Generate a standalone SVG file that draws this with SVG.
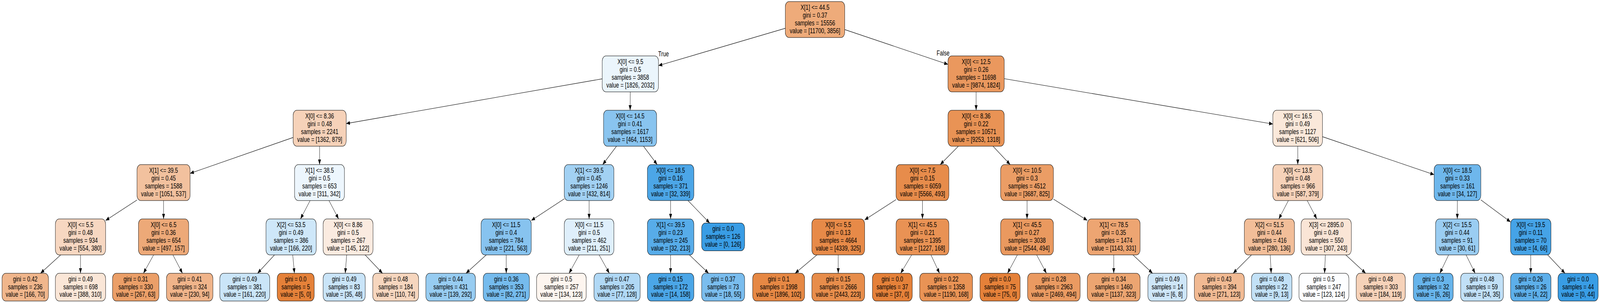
<svg xmlns="http://www.w3.org/2000/svg" width="5546" height="775" viewBox="0 0 5546 775" preserveAspectRatio="none" style="width:100vw;height:100vh">
<defs>
<style>
.node rect { stroke: #000; stroke-width: 1.1; }
.node text, .elabel { font-family: "Liberation Sans", Arial, Helvetica, sans-serif; font-size: 18.3px; text-anchor: middle; fill: #000; }
.edges line { stroke: #000; stroke-width: 1.1; fill: none; marker-end: url(#arrow); }
</style>
<marker id="arrow" viewBox="0 0 13 10" refX="13" refY="5" markerWidth="13" markerHeight="10" markerUnits="userSpaceOnUse" orient="auto">
<path d="M0,0 L13,5 L0,10 z" fill="#000"/>
</marker>
</defs>
<rect x="0" y="0" width="5546" height="775" fill="#fff"/>
<g id="connectors" class="edges">
<line x1="2722" y1="72.4" x2="2282.5" y2="167.8"/>
<line x1="2928" y1="75.6" x2="3286" y2="164.7"/>
<line x1="2087.5" y1="201.6" x2="1200" y2="316.1"/>
<line x1="2184.5" y1="235" x2="2184.2" y2="282"/>
<line x1="3383.5" y1="235" x2="3383.5" y2="282"/>
<line x1="3481" y1="201.2" x2="4412" y2="317.3"/>
<line x1="1016" y1="351.6" x2="659" y2="443.4"/>
<line x1="1107.8" y1="374" x2="1107.6" y2="421"/>
<line x1="2137" y1="374" x2="2089" y2="421"/>
<line x1="2230.5" y1="374" x2="2278" y2="421"/>
<line x1="3322" y1="374" x2="3259" y2="421"/>
<line x1="3442" y1="374" x2="3501.6" y2="421"/>
<line x1="4498.3" y1="374" x2="4498.4" y2="421"/>
<line x1="4584" y1="349.6" x2="4971" y2="446.7"/>
<line x1="475" y1="511.4" x2="366" y2="564"/>
<line x1="567" y1="513" x2="567" y2="560"/>
<line x1="1074.9" y1="513" x2="1041.6" y2="560"/>
<line x1="1140.3" y1="513" x2="1173.7" y2="560"/>
<line x1="1956" y1="508.6" x2="1841.5" y2="563.9"/>
<line x1="2042" y1="513" x2="2042" y2="560"/>
<line x1="2324.5" y1="513" x2="2324.5" y2="560"/>
<line x1="2384.7" y1="513" x2="2460" y2="570.5"/>
<line x1="3106" y1="510.6" x2="2997" y2="562.4"/>
<line x1="3197.5" y1="513" x2="3197.5" y2="560"/>
<line x1="3560" y1="513" x2="3560" y2="560"/>
<line x1="3651.5" y1="509.3" x2="3769" y2="563.7"/>
<line x1="4465.9" y1="513" x2="4432.6" y2="560"/>
<line x1="4531.1" y1="513" x2="4564.4" y2="560"/>
<line x1="5051.7" y1="513" x2="5051.3" y2="560"/>
<line x1="5133" y1="511.3" x2="5236" y2="567.7"/>
<line x1="210.4" y1="652" x2="140.4" y2="699"/>
<line x1="279" y1="652" x2="279" y2="699"/>
<line x1="532.5" y1="652" x2="497.2" y2="699"/>
<line x1="599.4" y1="652" x2="632.5" y2="699"/>
<line x1="951.5" y1="652" x2="892.8" y2="699"/>
<line x1="1014.7" y1="652" x2="1020.6" y2="699"/>
<line x1="1201.7" y1="652" x2="1196.7" y2="699"/>
<line x1="1265.6" y1="652" x2="1325.9" y2="699"/>
<line x1="1685.6" y1="652" x2="1615.2" y2="699"/>
<line x1="1754.7" y1="652" x2="1754.8" y2="699"/>
<line x1="2007.6" y1="652" x2="1972.5" y2="699"/>
<line x1="2076.7" y1="652" x2="2112.2" y2="699"/>
<line x1="2324.5" y1="652" x2="2324.5" y2="699"/>
<line x1="2389.7" y1="652" x2="2456.2" y2="699"/>
<line x1="2831.6" y1="652" x2="2756.1" y2="699"/>
<line x1="2905.5" y1="652" x2="2905.5" y2="699"/>
<line x1="3160.1" y1="652" x2="3121.9" y2="699"/>
<line x1="3226.9" y1="652" x2="3256.8" y2="699"/>
<line x1="3526.5" y1="652" x2="3492.3" y2="699"/>
<line x1="3593.3" y1="652" x2="3627.3" y2="699"/>
<line x1="3860.5" y1="652" x2="3860.5" y2="699"/>
<line x1="3927.1" y1="652" x2="3995.1" y2="699"/>
<line x1="4337.9" y1="652" x2="4274.4" y2="699"/>
<line x1="4402.9" y1="652" x2="4406.2" y2="699"/>
<line x1="4594.1" y1="652" x2="4591.2" y2="699"/>
<line x1="4664.7" y1="652" x2="4733.8" y2="699"/>
<line x1="5021.3" y1="652" x2="4990.9" y2="699"/>
<line x1="5081.8" y1="652" x2="5113.2" y2="699"/>
<line x1="5306" y1="652" x2="5306" y2="699"/>
<line x1="5364.7" y1="652" x2="5424.7" y2="699"/>
<text class="elabel" x="2300" y="144">True</text>
<text class="elabel" x="3269" y="142">False</text>
</g>

<g id="n0" class="node" transform="translate(2825,50)"><rect x="-103" y="-46" width="206" height="92" rx="13" fill="#eeab7a"/><text y="-25">X[1] &lt;= 44.5</text><text y="-5">gini = 0.37</text><text y="15">samples = 15556</text><text y="35">value = [11700, 3856]</text></g>
<g id="n1" class="node" transform="translate(2185,189)"><rect x="-97.5" y="-46" width="195" height="92" rx="13" fill="#ebf5fc"/><text y="-25">X[0] &lt;= 9.5</text><text y="-5">gini = 0.5</text><text y="15">samples = 3858</text><text y="35">value = [1826, 2032]</text></g>
<g id="n2" class="node" transform="translate(3383.5,189)"><rect x="-97.5" y="-46" width="195" height="92" rx="13" fill="#ea985e"/><text y="-25">X[0] &lt;= 12.5</text><text y="-5">gini = 0.26</text><text y="15">samples = 11698</text><text y="35">value = [9874, 1824]</text></g>
<g id="n3" class="node" transform="translate(1108,328)"><rect x="-92" y="-46" width="184" height="92" rx="13" fill="#f6d2b9"/><text y="-25">X[0] &lt;= 8.36</text><text y="-5">gini = 0.48</text><text y="15">samples = 2241</text><text y="35">value = [1362, 879]</text></g>
<g id="n4" class="node" transform="translate(2184,328)"><rect x="-92" y="-46" width="184" height="92" rx="13" fill="#89c4ef"/><text y="-25">X[0] &lt;= 14.5</text><text y="-5">gini = 0.41</text><text y="15">samples = 1617</text><text y="35">value = [464, 1153]</text></g>
<g id="n5" class="node" transform="translate(3383.5,328)"><rect x="-97.5" y="-46" width="195" height="92" rx="13" fill="#e99355"/><text y="-25">X[0] &lt;= 8.36</text><text y="-5">gini = 0.22</text><text y="15">samples = 10571</text><text y="35">value = [9253, 1318]</text></g>
<g id="n6" class="node" transform="translate(4498,328)"><rect x="-86" y="-46" width="172" height="92" rx="13" fill="#fae8da"/><text y="-25">X[0] &lt;= 16.5</text><text y="-5">gini = 0.49</text><text y="15">samples = 1127</text><text y="35">value = [621, 506]</text></g>
<g id="n7" class="node" transform="translate(567,467)"><rect x="-92" y="-46" width="184" height="92" rx="13" fill="#f2c19e"/><text y="-25">X[1] &lt;= 39.5</text><text y="-5">gini = 0.45</text><text y="15">samples = 1588</text><text y="35">value = [1051, 537]</text></g>
<g id="n8" class="node" transform="translate(1107.5,467)"><rect x="-86.5" y="-46" width="173" height="92" rx="13" fill="#edf6fd"/><text y="-25">X[1] &lt;= 38.5</text><text y="-5">gini = 0.5</text><text y="15">samples = 653</text><text y="35">value = [311, 342]</text></g>
<g id="n9" class="node" transform="translate(2042,467)"><rect x="-86" y="-46" width="172" height="92" rx="13" fill="#a2d1f3"/><text y="-25">X[1] &lt;= 39.5</text><text y="-5">gini = 0.45</text><text y="15">samples = 1246</text><text y="35">value = [432, 814]</text></g>
<g id="n10" class="node" transform="translate(2324.5,467)"><rect x="-80.5" y="-46" width="161" height="92" rx="13" fill="#4ca6e7"/><text y="-25">X[0] &lt;= 18.5</text><text y="-5">gini = 0.16</text><text y="15">samples = 371</text><text y="35">value = [32, 339]</text></g>
<g id="n11" class="node" transform="translate(3197.5,467)"><rect x="-91.5" y="-46" width="183" height="92" rx="13" fill="#e78c4b"/><text y="-25">X[0] &lt;= 7.5</text><text y="-5">gini = 0.15</text><text y="15">samples = 6059</text><text y="35">value = [5566, 493]</text></g>
<g id="n12" class="node" transform="translate(3560,467)"><rect x="-91.5" y="-46" width="183" height="92" rx="13" fill="#eb9d65"/><text y="-25">X[0] &lt;= 10.5</text><text y="-5">gini = 0.3</text><text y="15">samples = 4512</text><text y="35">value = [3687, 825]</text></g>
<g id="n13" class="node" transform="translate(4498.5,467)"><rect x="-86.5" y="-46" width="173" height="92" rx="13" fill="#f6d2b9"/><text y="-25">X[0] &lt;= 13.5</text><text y="-5">gini = 0.48</text><text y="15">samples = 966</text><text y="35">value = [587, 379]</text></g>
<g id="n14" class="node" transform="translate(5052,467)"><rect x="-81" y="-46" width="162" height="92" rx="13" fill="#6eb7ec"/><text y="-25">X[0] &lt;= 18.5</text><text y="-5">gini = 0.33</text><text y="15">samples = 161</text><text y="35">value = [34, 127]</text></g>
<g id="n15" class="node" transform="translate(279,606)"><rect x="-87" y="-46" width="174" height="92" rx="13" fill="#f7d7c1"/><text y="-25">X[0] &lt;= 5.5</text><text y="-5">gini = 0.48</text><text y="15">samples = 934</text><text y="35">value = [554, 380]</text></g>
<g id="n16" class="node" transform="translate(567,606)"><rect x="-87" y="-46" width="174" height="92" rx="13" fill="#eda978"/><text y="-25">X[0] &lt;= 6.5</text><text y="-5">gini = 0.36</text><text y="15">samples = 654</text><text y="35">value = [497, 157]</text></g>
<g id="n17" class="node" transform="translate(1009,606)"><rect x="-87" y="-46" width="174" height="92" rx="13" fill="#cee7f9"/><text y="-25">X[2] &lt;= 53.5</text><text y="-5">gini = 0.49</text><text y="15">samples = 386</text><text y="35">value = [166, 220]</text></g>
<g id="n18" class="node" transform="translate(1206.5,606)"><rect x="-86.5" y="-46" width="173" height="92" rx="13" fill="#fbebe0"/><text y="-25">X[0] &lt;= 8.86</text><text y="-5">gini = 0.5</text><text y="15">samples = 267</text><text y="35">value = [145, 122]</text></g>
<g id="n19" class="node" transform="translate(1754.5,606)"><rect x="-87" y="-46" width="174" height="92" rx="13" fill="#87c3ef"/><text y="-25">X[0] &lt;= 11.5</text><text y="-5">gini = 0.4</text><text y="15">samples = 784</text><text y="35">value = [221, 563]</text></g>
<g id="n20" class="node" transform="translate(2042,606)"><rect x="-86" y="-46" width="172" height="92" rx="13" fill="#dfeffb"/><text y="-25">X[0] &lt;= 11.5</text><text y="-5">gini = 0.5</text><text y="15">samples = 462</text><text y="35">value = [211, 251]</text></g>
<g id="n21" class="node" transform="translate(2324.5,606)"><rect x="-80.5" y="-46" width="161" height="92" rx="13" fill="#57ace9"/><text y="-25">X[1] &lt;= 39.5</text><text y="-5">gini = 0.23</text><text y="15">samples = 245</text><text y="35">value = [32, 213]</text></g>
<g id="n22" class="node" transform="translate(2506.5,606)"><rect x="-74.5" y="-35.5" width="149" height="71" rx="13" fill="#399de5"/><text y="-15">gini = 0.0</text><text y="5">samples = 126</text><text y="25">value = [0, 126]</text></g>
<g id="n23" class="node" transform="translate(2905.5,606)"><rect x="-91.5" y="-46" width="183" height="92" rx="13" fill="#e78a48"/><text y="-25">X[0] &lt;= 5.5</text><text y="-5">gini = 0.13</text><text y="15">samples = 4664</text><text y="35">value = [4339, 325]</text></g>
<g id="n24" class="node" transform="translate(3197.5,606)"><rect x="-91.5" y="-46" width="183" height="92" rx="13" fill="#e99254"/><text y="-25">X[1] &lt;= 45.5</text><text y="-5">gini = 0.21</text><text y="15">samples = 1395</text><text y="35">value = [1227, 168]</text></g>
<g id="n25" class="node" transform="translate(3560,606)"><rect x="-91.5" y="-46" width="183" height="92" rx="13" fill="#ea995f"/><text y="-25">X[1] &lt;= 45.5</text><text y="-5">gini = 0.27</text><text y="15">samples = 3038</text><text y="35">value = [2544, 494]</text></g>
<g id="n26" class="node" transform="translate(3860.5,606)"><rect x="-91.5" y="-46" width="183" height="92" rx="13" fill="#eda572"/><text y="-25">X[1] &lt;= 78.5</text><text y="-5">gini = 0.35</text><text y="15">samples = 1474</text><text y="35">value = [1143, 331]</text></g>
<g id="n27" class="node" transform="translate(4400,606)"><rect x="-87" y="-46" width="174" height="92" rx="13" fill="#f2be99"/><text y="-25">X[2] &lt;= 51.5</text><text y="-5">gini = 0.44</text><text y="15">samples = 416</text><text y="35">value = [280, 136]</text></g>
<g id="n28" class="node" transform="translate(4597,606)"><rect x="-87" y="-46" width="174" height="92" rx="13" fill="#fae5d6"/><text y="-25">X[3] &lt;= 2895.0</text><text y="-5">gini = 0.49</text><text y="15">samples = 550</text><text y="35">value = [307, 243]</text></g>
<g id="n29" class="node" transform="translate(5051,606)"><rect x="-75" y="-46" width="150" height="92" rx="13" fill="#9acdf2"/><text y="-25">X[2] &lt;= 15.5</text><text y="-5">gini = 0.44</text><text y="15">samples = 91</text><text y="35">value = [30, 61]</text></g>
<g id="n30" class="node" transform="translate(5306,606)"><rect x="-70" y="-46" width="140" height="92" rx="13" fill="#45a3e7"/><text y="-25">X[0] &lt;= 19.5</text><text y="-5">gini = 0.11</text><text y="15">samples = 70</text><text y="35">value = [4, 66]</text></g>

<g id="l1" class="node" transform="translate(87.5,734.5)"><rect x="-80.5" y="-35.5" width="161" height="71" rx="13" fill="#f0b68c"/><text y="-15">gini = 0.42</text><text y="5">samples = 236</text><text y="25">value = [166, 70]</text></g>
<g id="l2" class="node" transform="translate(279,734.5)"><rect x="-87" y="-35.5" width="174" height="71" rx="13" fill="#fae6d7"/><text y="-15">gini = 0.49</text><text y="5">samples = 698</text><text y="25">value = [388, 310]</text></g>
<g id="l3" class="node" transform="translate(470.5,734.5)"><rect x="-80.5" y="-35.5" width="161" height="71" rx="13" fill="#eb9f68"/><text y="-15">gini = 0.31</text><text y="5">samples = 330</text><text y="25">value = [267, 63]</text></g>
<g id="l4" class="node" transform="translate(657.5,734.5)"><rect x="-80.5" y="-35.5" width="161" height="71" rx="13" fill="#f0b48a"/><text y="-15">gini = 0.41</text><text y="5">samples = 324</text><text y="25">value = [230, 94]</text></g>
<g id="l5" class="node" transform="translate(848.5,734.5)"><rect x="-86.5" y="-35.5" width="173" height="71" rx="13" fill="#cae5f8"/><text y="-15">gini = 0.49</text><text y="5">samples = 381</text><text y="25">value = [161, 220]</text></g>
<g id="l6" class="node" transform="translate(1025,734.5)"><rect x="-64" y="-35.5" width="128" height="71" rx="13" fill="#e58139"/><text y="-15">gini = 0.0</text><text y="5">samples = 5</text><text y="25">value = [5, 0]</text></g>
<g id="l7" class="node" transform="translate(1193,734.5)"><rect x="-73" y="-35.5" width="146" height="71" rx="13" fill="#c9e4f8"/><text y="-15">gini = 0.49</text><text y="5">samples = 83</text><text y="25">value = [35, 48]</text></g>
<g id="l8" class="node" transform="translate(1371.5,734.5)"><rect x="-79.5" y="-35.5" width="159" height="71" rx="13" fill="#f6d6be"/><text y="-15">gini = 0.48</text><text y="5">samples = 184</text><text y="25">value = [110, 74]</text></g>
<g id="l9" class="node" transform="translate(1562,734.5)"><rect x="-86" y="-35.5" width="172" height="71" rx="13" fill="#97ccf1"/><text y="-15">gini = 0.44</text><text y="5">samples = 431</text><text y="25">value = [139, 292]</text></g>
<g id="l10" class="node" transform="translate(1755,734.5)"><rect x="-80" y="-35.5" width="160" height="71" rx="13" fill="#75bbed"/><text y="-15">gini = 0.36</text><text y="5">samples = 353</text><text y="25">value = [82, 271]</text></g>
<g id="l11" class="node" transform="translate(1946,734.5)"><rect x="-86" y="-35.5" width="172" height="71" rx="13" fill="#fdf5ef"/><text y="-15">gini = 0.5</text><text y="5">samples = 257</text><text y="25">value = [134, 123]</text></g>
<g id="l12" class="node" transform="translate(2139,734.5)"><rect x="-80" y="-35.5" width="160" height="71" rx="13" fill="#b0d8f5"/><text y="-15">gini = 0.47</text><text y="5">samples = 205</text><text y="25">value = [77, 128]</text></g>
<g id="l13" class="node" transform="translate(2324.5,734.5)"><rect x="-80.5" y="-35.5" width="161" height="71" rx="13" fill="#4ba6e7"/><text y="-15">gini = 0.15</text><text y="5">samples = 172</text><text y="25">value = [14, 158]</text></g>
<g id="l14" class="node" transform="translate(2506.5,734.5)"><rect x="-74.5" y="-35.5" width="149" height="71" rx="13" fill="#7abdee"/><text y="-15">gini = 0.37</text><text y="5">samples = 73</text><text y="25">value = [18, 55]</text></g>
<g id="l15" class="node" transform="translate(2699,734.5)"><rect x="-90" y="-35.5" width="180" height="71" rx="13" fill="#e68844"/><text y="-15">gini = 0.1</text><text y="5">samples = 1998</text><text y="25">value = [1896, 102]</text></g>
<g id="l16" class="node" transform="translate(2905.5,734.5)"><rect x="-91.5" y="-35.5" width="183" height="71" rx="13" fill="#e78d4b"/><text y="-15">gini = 0.15</text><text y="5">samples = 2666</text><text y="25">value = [2443, 223]</text></g>
<g id="l17" class="node" transform="translate(3093,734.5)"><rect x="-69" y="-35.5" width="138" height="71" rx="13" fill="#e58139"/><text y="-15">gini = 0.0</text><text y="5">samples = 37</text><text y="25">value = [37, 0]</text></g>
<g id="l18" class="node" transform="translate(3279.5,734.5)"><rect x="-91.5" y="-35.5" width="183" height="71" rx="13" fill="#e99355"/><text y="-15">gini = 0.22</text><text y="5">samples = 1358</text><text y="25">value = [1190, 168]</text></g>
<g id="l19" class="node" transform="translate(3466.5,734.5)"><rect x="-69.5" y="-35.5" width="139" height="71" rx="13" fill="#e58139"/><text y="-15">gini = 0.0</text><text y="5">samples = 75</text><text y="25">value = [75, 0]</text></g>
<g id="l20" class="node" transform="translate(3653,734.5)"><rect x="-91" y="-35.5" width="182" height="71" rx="13" fill="#ea9a61"/><text y="-15">gini = 0.28</text><text y="5">samples = 2963</text><text y="25">value = [2469, 494]</text></g>
<g id="l21" class="node" transform="translate(3860.5,734.5)"><rect x="-91.5" y="-35.5" width="183" height="71" rx="13" fill="#eca571"/><text y="-15">gini = 0.34</text><text y="5">samples = 1460</text><text y="25">value = [1137, 323]</text></g>
<g id="l22" class="node" transform="translate(4046.5,734.5)"><rect x="-67.5" y="-35.5" width="135" height="71" rx="13" fill="#cee6f8"/><text y="-15">gini = 0.49</text><text y="5">samples = 14</text><text y="25">value = [6, 8]</text></g>
<g id="l23" class="node" transform="translate(4226.5,734.5)"><rect x="-86.5" y="-35.5" width="173" height="71" rx="13" fill="#f1ba93"/><text y="-15">gini = 0.43</text><text y="5">samples = 394</text><text y="25">value = [271, 123]</text></g>
<g id="l24" class="node" transform="translate(4408,734.5)"><rect x="-70" y="-35.5" width="140" height="71" rx="13" fill="#c2e1f7"/><text y="-15">gini = 0.48</text><text y="5">samples = 22</text><text y="25">value = [9, 13]</text></g>
<g id="l25" class="node" transform="translate(4589,734.5)"><rect x="-86.5" y="-35.5" width="173" height="71" rx="13" fill="#fdfeff"/><text y="-15">gini = 0.5</text><text y="5">samples = 247</text><text y="25">value = [123, 124]</text></g>
<g id="l26" class="node" transform="translate(4786,734.5)"><rect x="-85" y="-35.5" width="170" height="71" rx="13" fill="#f6d2b9"/><text y="-15">gini = 0.48</text><text y="5">samples = 303</text><text y="25">value = [184, 119]</text></g>
<g id="l27" class="node" transform="translate(4968,734.5)"><rect x="-69" y="-35.5" width="138" height="71" rx="13" fill="#67b4eb"/><text y="-15">gini = 0.3</text><text y="5">samples = 32</text><text y="25">value = [6, 26]</text></g>
<g id="l28" class="node" transform="translate(5137,734.5)"><rect x="-74" y="-35.5" width="148" height="71" rx="13" fill="#c1e0f7"/><text y="-15">gini = 0.48</text><text y="5">samples = 59</text><text y="25">value = [24, 35]</text></g>
<g id="l29" class="node" transform="translate(5306,734.5)"><rect x="-70" y="-35.5" width="140" height="71" rx="13" fill="#5dafea"/><text y="-15">gini = 0.26</text><text y="5">samples = 26</text><text y="25">value = [4, 22]</text></g>
<g id="l30" class="node" transform="translate(5470,734.5)"><rect x="-69.5" y="-35.5" width="139" height="71" rx="13" fill="#399de5"/><text y="-15">gini = 0.0</text><text y="5">samples = 44</text><text y="25">value = [0, 44]</text></g>
</svg>
